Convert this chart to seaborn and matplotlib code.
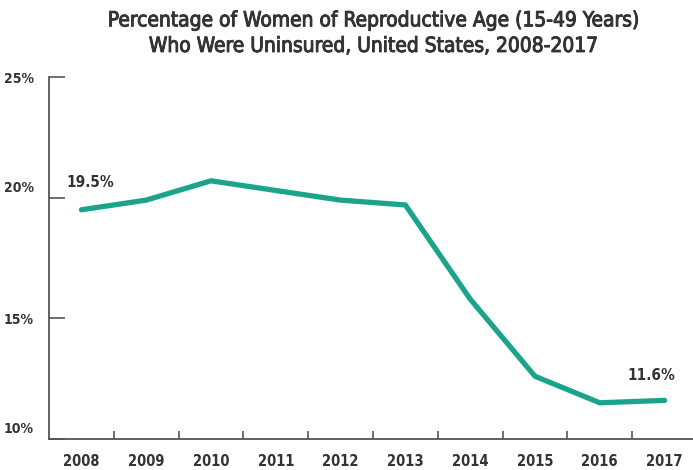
import matplotlib.pyplot as plt
import matplotlib.patheffects as pe
import seaborn as sns
import pandas as pd
from matplotlib.ticker import FixedLocator
from matplotlib.transforms import ScaledTranslation

years = ["2008", "2009", "2010", "2011", "2012", "2013", "2014", "2015", "2016", "2017"]
uninsured = [19.5, 19.9, 20.7, 20.3, 19.9, 19.7, 15.8, 12.6, 11.5, 11.6]
ytick_vals = [10, 15, 20, 25]
ytick_labels = ["10%", "15%", "20%", "25%"]

df = pd.DataFrame({"year": years, "pct": uninsured})

sns.set_theme(style="white")
plt.rcParams["font.family"] = ["DejaVu Sans"]
plt.rcParams["font.stretch"] = "condensed"

fig = plt.figure(figsize=(6.93, 4.7), dpi=100)
ax = fig.add_axes([0.0707, 0.066, 0.935, 0.770])

sns.lineplot(data=df, x="year", y="pct", color="#1aa58a", linewidth=3.8,
             solid_capstyle="round", ax=ax)

ax.set_xlim(-0.5, 9.5)
ax.set_ylim(10, 25)
ax.set_xlabel("")
ax.set_ylabel("")

# spines
for s in ["top", "right"]:
    ax.spines[s].set_visible(False)
for s in ["left", "bottom"]:
    ax.spines[s].set_color("#555555")
    ax.spines[s].set_linewidth(1.3)

# y ticks (10% and 20% labels sit a bit above their ticks, like the original)
ax.set_yticks(ytick_vals)
ax.set_yticklabels(ytick_labels, fontsize=10, fontweight="bold", color="#333333",
                   stretch="condensed")
ax.tick_params(axis="y", direction="in", length=11.5, width=1.2, color="#555555", pad=11, left=True)
for lab, up in zip(ax.get_yticklabels(), [True, False, True, False]):
    if up:
        lab.set_transform(lab.get_transform() + ScaledTranslation(0, 8 / 72, fig.dpi_scale_trans))

# x ticks: labels at centers, marks between categories
ax.set_xticks(range(len(years)))
ax.set_xticklabels(years, fontsize=10.5, fontweight="bold", color="#333333",
                   stretch="condensed")
ax.tick_params(axis="x", which="major", length=0, pad=11)
ax.xaxis.set_minor_locator(FixedLocator([i + 0.5 for i in range(len(years) - 1)]))
ax.tick_params(axis="x", which="minor", direction="in", length=6, width=1.2,
               color="#555555", bottom=True)

# value labels
ax.text(0.14, uninsured[0] + 1.15, f"{uninsured[0]}%", ha="center", va="center",
        fontsize=11, fontweight="bold", color="#333333", stretch="condensed")
ax.text(8.8, uninsured[-1] + 1.05, f"{uninsured[-1]}%", ha="center", va="center",
        fontsize=11, fontweight="bold", color="#333333", stretch="condensed")

fig.text(0.54, 0.978, "Percentage of Women of Reproductive Age (15-49 Years)\nWho Were Uninsured, United States, 2008-2017",
         ha="center", va="top", fontsize=15, stretch="condensed",
         color="#333333", linespacing=1.35,
         path_effects=[pe.withStroke(linewidth=0.7, foreground="#333333")])

fig.savefig("out.png", dpi=100)
